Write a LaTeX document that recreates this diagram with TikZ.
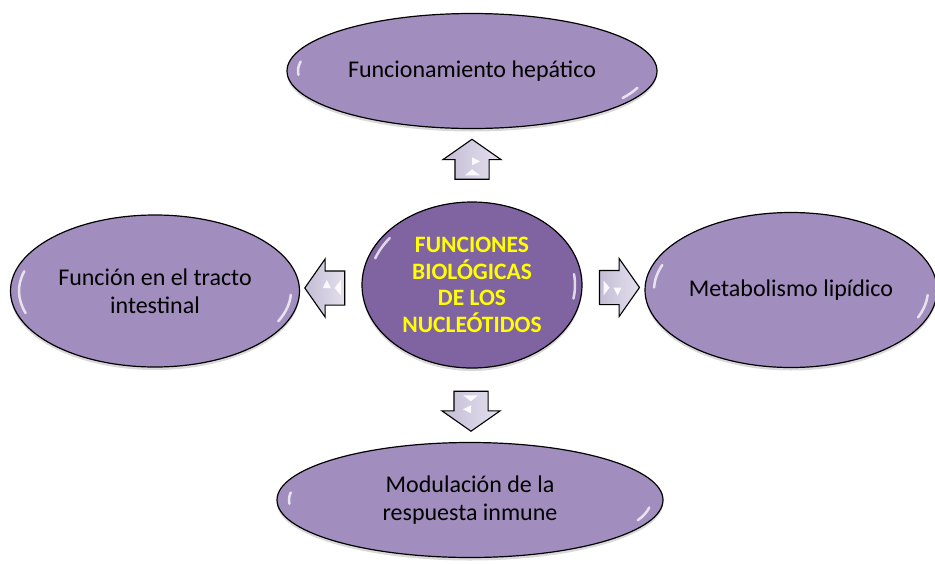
\documentclass[tikz,border=0pt]{standalone}
\usepackage{fontspec}
\setmainfont{Carlito}
\usetikzlibrary{shapes.geometric,shapes.arrows,shadows,calc}

\definecolor{lavender}{RGB}{162,142,190}
\definecolor{hubpurple}{RGB}{128,100,162}
\definecolor{arrowlight}{RGB}{228,224,238}
\definecolor{arrowdark}{RGB}{196,189,213}
\definecolor{hubyellow}{RGB}{255,255,0}

\tikzset{topic/.style={shape=ellipse,draw=black,line width=1.2pt,fill=lavender,
          inner sep=0pt,align=center,font=\fontsize{24}{28}\selectfont,
          drop shadow={shadow xshift=0pt,shadow yshift=-3pt,opacity=0.3}},
        hub/.style={topic,fill=hubpurple,text=hubyellow,
          font=\fontsize{23.5}{26.7}\selectfont\bfseries},
        pointer/.style={single arrow,draw=black,line width=1.1pt,
          left color=arrowdark,right color=arrowlight,
          inner xsep=0pt,inner ysep=16.5pt,
          minimum height=40pt,minimum width=57pt,
          single arrow tip angle=110,single arrow head extend=12pt},
        shine/.style={fill=white,opacity=0.9},
        gloss/.style={draw=white,line width=2.5pt,line cap=round,opacity=0.75}}

\begin{document}
\begin{tikzpicture}[x=1pt,y=-1pt]
        \useasboundingbox (0,0) rectangle (935,563);

        \node[topic,minimum width=370pt,minimum height=115pt] (hepatic) at (472,71) {Funcionamiento hepático};
        \node[topic,minimum width=289pt,minimum height=152pt] (tract) at (155,291) {Función en el tracto\\intestinal};
        \node[hub,minimum width=220pt,minimum height=166pt] (core) at (472,285) {FUNCIONES\\BIOLÓGICAS\\DE LOS\\NUCLEÓTIDOS};
        \node[topic,minimum width=292pt,minimum height=155pt] (lipid) at (791,290) {Metabolismo lipídico};
        \node[topic,minimum width=386pt,minimum height=115pt] (immune) at (470,500) {Modulación de la\\respuesta inmune};

        % highlights on the rims
        \draw[gloss] (hepatic.center) ++(170:174pt and 54pt) arc[start angle=170,end angle=184,x radius=174pt,y radius=54pt];
        \draw[gloss] (hepatic.center) ++(-18:174pt and 54pt) arc[start angle=-18,end angle=-30,x radius=174pt,y radius=54pt];
        \draw[gloss] (tract.center) ++(164:136pt and 71.5pt) arc[start angle=164,end angle=198,x radius=136pt,y radius=71.5pt];
        \draw[gloss] (tract.center) ++(-3:136pt and 71.5pt) arc[start angle=-3,end angle=-25,x radius=136pt,y radius=71.5pt];
        \draw[gloss] (core.center) ++(143:103pt and 78pt) arc[start angle=143,end angle=160,x radius=103pt,y radius=78pt];
        \draw[gloss] (core.center) ++(8:103pt and 78pt) arc[start angle=8,end angle=-10,x radius=103pt,y radius=78pt];
        \draw[gloss] (lipid.center) ++(160:137pt and 73pt) arc[start angle=160,end angle=178,x radius=137pt,y radius=73pt];
        \draw[gloss] (lipid.center) ++(-4:137pt and 73pt) arc[start angle=-4,end angle=-22,x radius=137pt,y radius=73pt];
        \draw[gloss] (immune.center) ++(172:181pt and 54pt) arc[start angle=172,end angle=184,x radius=181pt,y radius=54pt];
        \draw[gloss] (immune.center) ++(-8:181pt and 54pt) arc[start angle=-8,end angle=-22,x radius=181pt,y radius=54pt];

        \node[pointer,rotate=90] (toup) at ($(core.north)!0.5!(hepatic.south)$) {};
        \node[pointer,rotate=180] (toleft) at ($(core.west)!0.5!(tract.east)$) {};
        \node[pointer,rotate=0] (toright) at ($(core.east)!0.5!(lipid.west)$) {};
        \node[pointer,rotate=-90] (todown) at ($(core.south)!0.5!(immune.north)$) {};

        % white marks inside the arrows
        \begin{scope}[shift={(toup.center)},rotate=0,x=1pt,y=1pt]
          \fill[shine] (0,8) -- (0,0) -- (8,4) -- cycle;
          \fill[shine] (0,-4) -- (-7,-10) -- (8,-10) -- cycle;
        \end{scope}
        \begin{scope}[shift={(toleft.center)},rotate=90,x=1pt,y=1pt]
          \fill[shine] (0,8) -- (0,0) -- (8,4) -- cycle;
          \fill[shine] (0,-4) -- (-7,-10) -- (8,-10) -- cycle;
        \end{scope}
        \begin{scope}[shift={(todown.center)},rotate=180,x=1pt,y=1pt]
          \fill[shine] (0,8) -- (0,0) -- (8,4) -- cycle;
          \fill[shine] (0,-4) -- (-7,-10) -- (8,-10) -- cycle;
        \end{scope}
        \begin{scope}[shift={(toright.center)},rotate=-90,x=1pt,y=1pt]
          \fill[shine] (0,8) -- (0,0) -- (8,4) -- cycle;
          \fill[shine] (0,-4) -- (-7,-10) -- (8,-10) -- cycle;
        \end{scope}
\end{tikzpicture}
\end{document}
